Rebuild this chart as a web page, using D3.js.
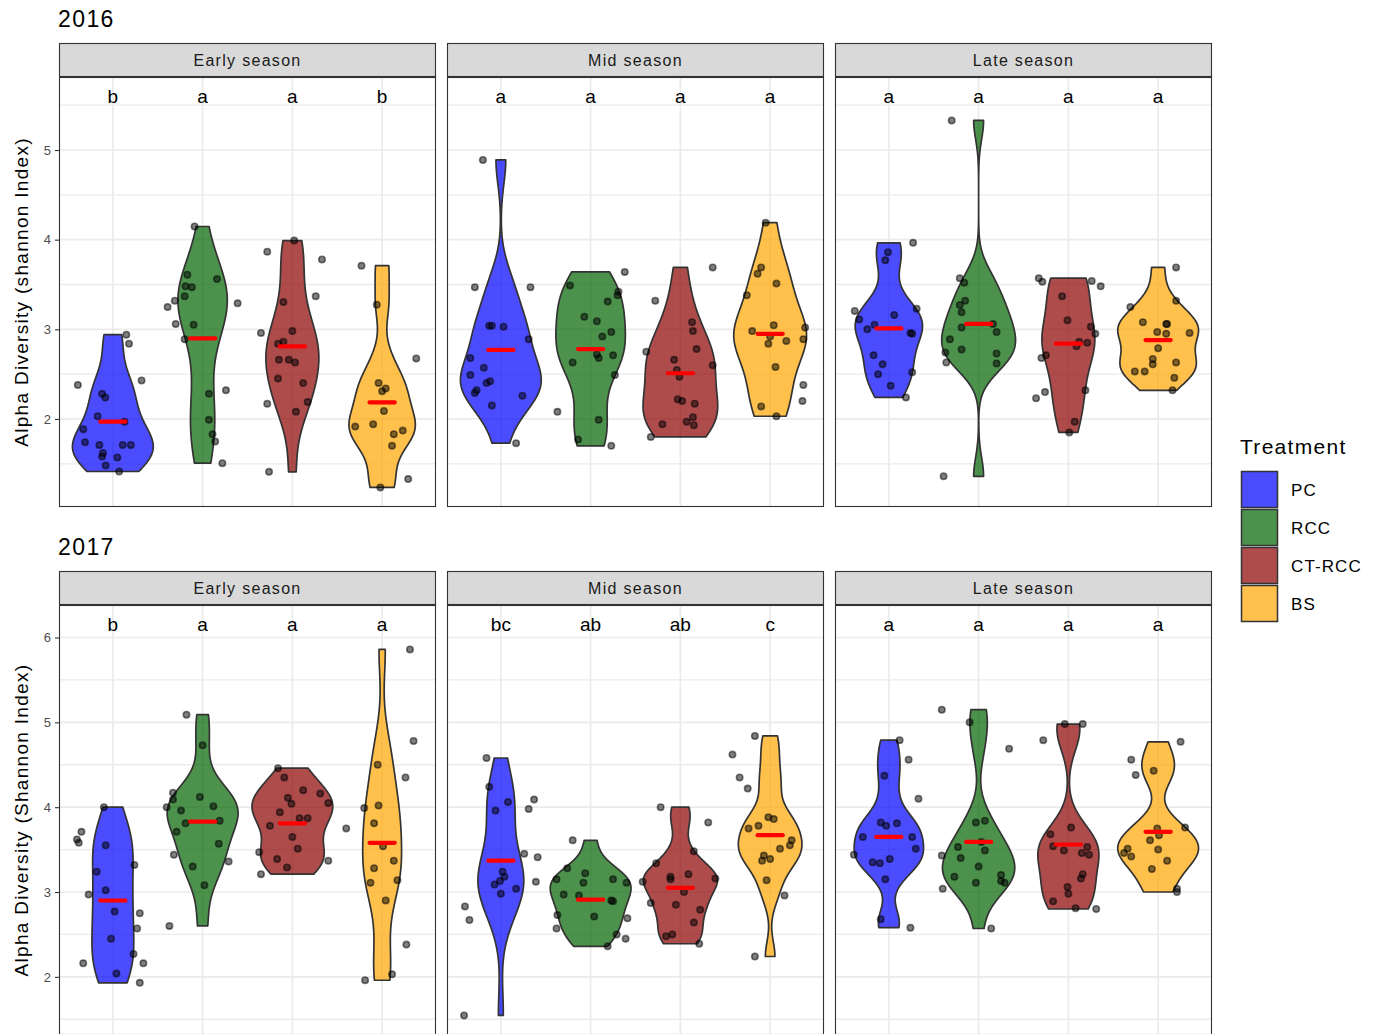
<!DOCTYPE html>
<html>
<head>
<meta charset="utf-8">
<script src="https://cdn.jsdelivr.net/npm/d3@7"></script>
<style>
  body { margin: 0; background: #fff; }
  svg { display: block; font-family: "Liberation Sans", Arial, sans-serif; }
</style>
</head>
<body>
<svg id="chart" width="1376" height="1034"></svg>
<script>
const years = ["2016", "2017"];
const seasons = ["Early season", "Mid season", "Late season"];
const treatments = ["PC", "RCC", "CT-RCC", "BS"];
const yTitles = ["Alpha Diversity (shannon Index)", "Alpha Diversity (Shannon Index)"];
const yTicks = [[2, 3, 4, 5], [2, 3, 4, 5, 6]];

// each point: [shannon value, horizontal jitter in category units]
const early2016 = [
  [[2.94,.15],[2.84,.18],[2.43,.32],[2.38,-.39],[2.28,-.12],[2.24,-.085],[2.03,-.17],[1.97,.13],[1.885,-.33],[1.74,-.31],[1.71,-.15],[1.71,.11],[1.71,.2],[1.62,-.11],[1.58,-.12],[1.57,.05],[1.48,-.08],[1.414,.07]],
  [[4.147,-.09],[3.61,-.17],[3.56,.16],[3.48,-.19],[3.47,-.12],[3.37,-.2],[3.32,-.31],[3.29,.39],[3.25,-.39],[3.06,-.3],[3.05,-.1],[2.89,-.2],[2.32,.26],[2.28,.07],[1.99,.07],[1.83,.11],[1.75,.14],[1.507,.22]],
  [[3.99,.02],[3.865,-.28],[3.78,.33],[3.37,.26],[3.305,-.1],[2.98,0],[2.96,-.35],[2.86,-.1],[2.84,-.16],[2.66,-.15],[2.66,-.04],[2.63,.03],[2.45,-.16],[2.40,.12],[2.19,.17],[2.17,-.28],[2.08,.04],[1.41,-.26]],
  [[3.71,-.23],[3.275,-.06],[2.675,.38],[2.40,-.04],[2.34,.04],[2.31,0],[2.09,.02],[1.94,-.1],[1.915,-.3],[1.87,.23],[1.83,.13],[1.70,.11],[1.33,.29],[1.236,-.02]]
];
const mid2016 = [
  [[4.89,-.2],[3.47,-.29],[3.47,.33],[3.04,-.13],[3.04,-.1],[3.03,.03],[2.89,.31],[2.68,-.34],[2.57,-.19],[2.49,-.34],[2.42,-.12],[2.40,-.16],[2.32,-.27],[2.29,-.29],[2.26,.24],[2.15,-.1],[1.73,.17]],
  [[3.64,.38],[3.49,-.23],[3.42,.31],[3.38,.3],[3.31,.19],[3.14,-.07],[3.09,.07],[2.97,.23],[2.92,.13],[2.72,.07],[2.71,.25],[2.68,.09],[2.63,-.2],[2.49,.27],[2.08,-.37],[1.99,.09],[1.77,-.14],[1.70,.23]],
  [[3.69,.36],[3.32,-.28],[3.08,.13],[2.98,.14],[2.78,.18],[2.75,-.38],[2.66,-.07],[2.60,.36],[2.545,-.04],[2.47,-.01],[2.22,-.03],[2.20,.02],[2.17,.16],[2.02,.14],[1.97,.07],[1.94,-.2],[1.93,.15],[1.80,-.33]],
  [[4.19,-.05],[3.69,-.1],[3.62,-.14],[3.51,.07],[3.38,-.26],[3.045,.04],[3.02,.39],[2.98,-.2],[2.92,0],[2.89,.37],[2.87,.18],[2.84,-.02],[2.58,.06],[2.38,.37],[2.20,.36],[2.14,-.1],[2.03,.07]]
];
const late2016 = [
  [[3.965,.27],[3.86,-.01],[3.77,-.04],[3.23,.31],[3.205,-.38],[3.16,.06],[3.11,-.33],[3.05,-.16],[3.00,-.24],[2.96,.24],[2.95,.26],[2.71,-.17],[2.61,-.07],[2.52,.26],[2.50,-.12],[2.37,.02],[2.24,.19]],
  [[5.33,-.3],[3.57,-.21],[3.52,-.16],[3.32,-.15],[3.27,-.21],[3.19,-.19],[3.06,.16],[3.02,-.19],[2.97,.2],[2.89,-.32],[2.775,-.19],[2.74,-.37],[2.73,.2],[2.63,-.36],[2.62,.2],[1.36,-.39]],
  [[3.57,-.33],[3.54,.26],[3.53,-.29],[3.48,.36],[3.37,-.07],[3.10,-.01],[3.03,.25],[2.95,.3],[2.86,.12],[2.85,.21],[2.81,.09],[2.71,-.25],[2.68,-.3],[2.32,.19],[2.30,-.26],[2.23,-.36],[1.97,.07],[1.85,.01]],
  [[3.69,.2],[3.32,.2],[3.25,-.31],[3.08,-.17],[3.06,.09],[3.06,.1],[2.97,-.01],[2.96,.35],[2.95,.09],[2.79,0],[2.67,-.06],[2.63,.2],[2.61,-.06],[2.53,-.26],[2.53,-.15],[2.46,.18],[2.32,.16]]
];
const early2017 = [
  [[4.00,-.1],[3.71,-.35],[3.62,-.4],[3.58,-.38],[3.55,-.08],[3.32,.24],[3.24,-.18],[3.02,-.08],[2.97,-.27],[2.77,.02],[2.75,.3],[2.57,.27],[2.45,-.02],[2.27,.23],[2.16,.34],[2.16,-.33],[2.04,.04],[1.93,.3]],
  [[5.09,-.18],[4.73,0],[4.17,-.33],[4.12,-.03],[4.09,-.33],[4.01,.12],[4.00,-.4],[3.96,-.24],[3.84,.19],[3.81,-.19],[3.71,-.29],[3.57,.18],[3.44,-.32],[3.36,.29],[3.30,-.11],[3.08,.02],[2.60,-.37]],
  [[4.46,-.16],[4.35,-.09],[4.20,.12],[4.16,.31],[4.11,-.05],[4.04,-.01],[4.05,.4],[3.94,-.14],[3.87,.08],[3.87,.17],[3.78,-.25],[3.65,0],[3.51,.06],[3.47,-.37],[3.39,-.17],[3.37,.4],[3.29,-.06],[3.21,-.35]],
  [[5.86,.31],[4.78,.35],[4.50,-.05],[4.35,.26],[4.02,-.04],[3.99,-.2],[3.81,-.09],[3.75,-.4],[3.54,.01],[3.37,.13],[3.28,-.09],[3.14,.17],[3.11,-.13],[2.90,.04],[2.38,.27],[2.03,.11],[1.96,-.19]]
];
const mid2017 = [
  [[4.58,-.16],[4.24,-.13],[4.09,.37],[4.06,.08],[3.98,.31],[3.96,-.06],[3.45,.26],[3.41,.41],[3.24,.02],[3.18,.04],[3.13,-.01],[3.12,.39],[3.09,-.07],[3.04,.17],[2.98,0],[2.83,-.4],[2.67,-.35],[1.545,-.41]],
  [[3.61,-.2],[3.28,-.26],[3.22,-.06],[3.15,-.38],[3.15,.25],[3.11,-.08],[3.11,.4],[2.97,-.3],[2.96,-.13],[2.90,.23],[2.89,.25],[2.73,-.37],[2.71,.04],[2.69,.41],[2.57,-.38],[2.50,.29],[2.45,.39],[2.36,.19]],
  [[4.00,-.22],[3.82,.31],[3.48,.15],[3.34,-.27],[3.21,.09],[3.18,-.11],[3.16,.39],[3.15,-.11],[3.12,-.42],[3.00,.04],[2.87,-.33],[2.85,-.05],[2.79,.22],[2.64,.15],[2.50,-.09],[2.48,-.16],[2.39,.21]],
  [[4.84,-.17],[4.62,-.42],[4.35,-.34],[4.22,-.25],[3.88,-.02],[3.86,.04],[3.78,-.13],[3.75,-.24],[3.61,.24],[3.55,.22],[3.51,.11],[3.43,-.07],[3.39,0],[3.37,-.09],[3.14,-.04],[2.96,.16],[2.24,-.17]]
];
const late2017 = [
  [[4.79,.12],[4.56,.22],[4.37,-.05],[4.10,.33],[3.82,-.09],[3.81,.09],[3.78,-.03],[3.65,-.29],[3.65,.26],[3.51,.3],[3.44,-.39],[3.39,.01],[3.35,-.18],[3.34,-.1],[3.15,-.04],[2.68,-.09],[2.58,.24]],
  [[5.15,-.41],[5.00,-.1],[4.69,.34],[3.84,.07],[3.82,-.03],[3.59,.03],[3.53,-.23],[3.49,.07],[3.43,-.41],[3.40,-.2],[3.30,0],[3.20,.25],[3.18,-.27],[3.13,.25],[3.11,-.03],[3.11,.29],[3.04,-.4],[2.57,.14]],
  [[4.98,-.04],[4.98,.16],[4.79,-.28],[3.76,.03],[3.68,-.2],[3.54,-.17],[3.53,.21],[3.49,-.05],[3.46,.15],[3.44,.23],[3.21,.16],[3.16,.14],[3.06,-.01],[2.98,0],[2.89,-.17],[2.81,.08],[2.80,.31]],
  [[4.77,.25],[4.56,-.3],[4.43,-.05],[4.38,-.25],[3.76,.3],[3.75,-.01],[3.67,.01],[3.61,-.09],[3.51,-.34],[3.50,0],[3.46,-.38],[3.42,-.3],[3.37,.1],[3.27,-.07],[3.04,.21],[3.00,.21]]
];

const medians2016 = [[1.97, 2.90, 2.81, 2.185], [2.77, 2.78, 2.51, 2.95], [3.01, 3.06, 2.84, 2.88]];
const medians2017 = [[2.90, 3.83, 3.81, 3.58], [3.37, 2.91, 3.05, 3.67], [3.65, 3.59, 3.56, 3.71]];
const letters2016 = [["b", "a", "a", "b"], ["a", "a", "a", "a"], ["a", "a", "a", "a"]];
const letters2017 = [["b", "a", "a", "a"], ["bc", "ab", "ab", "c"], ["a", "a", "a", "a"]];

const fills = ["blue", "darkgreen", "darkred", "orange"];

const pointsByYear = [[early2016, mid2016, late2016], [early2017, mid2017, late2017]];
const mediansByYear = [medians2016, medians2017];
const lettersByYear = [letters2016, letters2017];

const svg = d3.select("#chart");
svg.append("rect").attr("width", 1376).attr("height", 1034).attr("fill", "#fff");

const panelLeft = 59, panelW = 377, panelGap = 11;
const rows = [
  { title: 27, strip: 43, top: 77, bottom: 507 },
  { title: 555, strip: 571, top: 605, bottom: 1035 }
];

// gaussian kde like R density(), bandwidth nrd0, trimmed to data range
const kde = (vals) => {
  const s = vals.slice().sort(d3.ascending);
  const n = s.length;
  const sd = d3.deviation(s);
  const iqr = d3.quantileSorted(s, 0.75) - d3.quantileSorted(s, 0.25);
  const lo = Math.min(sd, iqr / 1.34) || sd;
  const bw = 0.9 * lo * Math.pow(n, -0.2);
  const [mn, mx] = [s[0], s[n - 1]];
  const out = [];
  for (let i = 0; i < 512; i++) {
    const y = mn + (mx - mn) * i / 511;
    let d = 0;
    for (const v of s) {
      const z = (y - v) / bw;
      d += Math.exp(-0.5 * z * z);
    }
    out.push({ v: y, d: d / (n * bw * Math.sqrt(2 * Math.PI)) });
  }
  return out;
};

years.forEach((year, r) => {
  const row = rows[r];
  const panels = pointsByYear[r];
  const vmax = d3.max(panels.flat().flat(), d => d[0]);
  const vmin = d3.min(panels.flat().flat(), d => d[0]);
  const labelY = vmax * 1.05;
  const pad = (labelY - vmin) * 0.05;
  const y = d3.scaleLinear().domain([vmin - pad, labelY + pad]).range([row.bottom, row.top]);

  svg.append("text")
    .attr("x", 58).attr("y", row.title)
    .attr("font-size", 23).attr("letter-spacing", 1.4).attr("fill", "#000")
    .text(year);

  // y axis title
  svg.append("text")
    .attr("transform", `translate(28,${(row.top + row.bottom) / 2}) rotate(-90)`)
    .attr("text-anchor", "middle")
    .attr("font-size", 19).attr("letter-spacing", 1.3).attr("fill", "#000")
    .text(yTitles[r]);

  // y axis ticks
  const yAxis = svg.append("g")
    .attr("transform", `translate(${panelLeft},0)`)
    .call(d3.axisLeft(y).tickValues(yTicks[r]).tickSize(4).tickPadding(4).tickFormat(d3.format("d")));
  yAxis.select(".domain").remove();
  yAxis.selectAll(".tick line").attr("stroke", "#333").attr("stroke-width", 1.1);
  yAxis.selectAll(".tick text").attr("fill", "#4d4d4d").attr("font-size", 13)
    .attr("font-family", "Liberation Sans, Arial, sans-serif");

  const [d0, d1] = y.domain();
  const minorTicks = d3.range(Math.ceil(d0 - 0.5) + 0.5, d1, 1).filter(v => v > d0 && v < d1);

  panels.forEach((groups, p) => {
    const x0 = panelLeft + p * (panelW + panelGap);
    const x = d3.scaleLinear().domain([0.4, 4.6]).range([x0, x0 + panelW]);

    // strip
    svg.append("rect")
      .attr("x", x0 + 0.5).attr("y", row.strip + 0.5)
      .attr("width", panelW - 1).attr("height", row.top - row.strip - 1)
      .attr("fill", "#d9d9d9").attr("stroke", "#333").attr("stroke-width", 1.1);
    svg.append("text")
      .attr("x", x0 + panelW / 2).attr("y", (row.strip + row.top) / 2)
      .attr("dy", "0.36em").attr("text-anchor", "middle")
      .attr("font-size", 16).attr("letter-spacing", 1.3).attr("fill", "#1a1a1a")
      .text(seasons[p]);

    const g = svg.append("g");
    g.append("rect").attr("x", x0).attr("y", row.top)
      .attr("width", panelW).attr("height", row.bottom - row.top).attr("fill", "#fff");

    // grid
    g.selectAll(".minor").data(minorTicks).join("line")
      .attr("x1", x0).attr("x2", x0 + panelW)
      .attr("y1", d => y(d)).attr("y2", d => y(d))
      .attr("stroke", "#ebebeb").attr("stroke-width", 1.3);
    g.selectAll(".major").data(y.ticks().filter(t => Number.isInteger(t))).join("line")
      .attr("x1", x0).attr("x2", x0 + panelW)
      .attr("y1", d => y(d)).attr("y2", d => y(d))
      .attr("stroke", "#ebebeb").attr("stroke-width", 1.7);
    g.selectAll(".vgrid").data(treatments).join("line")
      .attr("x1", (d, i) => x(i + 1)).attr("x2", (d, i) => x(i + 1))
      .attr("y1", row.top).attr("y2", row.bottom)
      .attr("stroke", "#ebebeb").attr("stroke-width", 1.7);

    // violins (scale = "area": width relative to panel max density)
    const dens = groups.map(pts => kde(pts.map(d => d[0])));
    const maxD = d3.max(dens.flat(), d => d.d);
    dens.forEach((curve, i) => {
      const c = i + 1;
      const area = d3.area()
        .y(d => y(d.v))
        .x0(d => x(c - 0.45 * d.d / maxD))
        .x1(d => x(c + 0.45 * d.d / maxD));
      g.append("path")
        .attr("d", area(curve))
        .attr("fill", fills[i]).attr("fill-opacity", 0.7)
        .attr("stroke", "#333").attr("stroke-width", 1.7)
        .attr("stroke-linejoin", "round");
    });

    // jittered points
    groups.forEach((pts, i) => {
      g.selectAll(null).data(pts).join("circle")
        .attr("cx", d => x(i + 1 + d[1]))
        .attr("cy", d => y(d[0]))
        .attr("r", 3.2)
        .attr("fill", "#000").attr("fill-opacity", 0.5)
        .attr("stroke", "#000").attr("stroke-opacity", 0.5).attr("stroke-width", 1.6);
    });

    // median bars
    g.selectAll(null).data(mediansByYear[r][p]).join("line")
      .attr("x1", (d, i) => x(i + 1 - 0.14)).attr("x2", (d, i) => x(i + 1 + 0.14))
      .attr("y1", d => y(d)).attr("y2", d => y(d))
      .attr("stroke", "red").attr("stroke-width", 4.2).attr("stroke-linecap", "round");

    // significance letters
    g.selectAll(null).data(lettersByYear[r][p]).join("text")
      .attr("x", (d, i) => x(i + 1)).attr("y", y(labelY))
      .attr("dy", "0.36em").attr("text-anchor", "middle")
      .attr("font-size", 19).attr("fill", "#000")
      .text(d => d);

    g.append("rect").attr("x", x0 + 0.5).attr("y", row.top + 0.5)
      .attr("width", panelW - 1).attr("height", row.bottom - row.top - 1)
      .attr("fill", "none").attr("stroke", "#333").attr("stroke-width", 1.1);
  });
});

// legend
const legend = svg.append("g").attr("transform", "translate(1240,0)");
legend.append("text").attr("x", 0).attr("y", 454)
  .attr("font-size", 21).attr("letter-spacing", 1.3).attr("fill", "#000").text("Treatment");
treatments.forEach((t, i) => {
  const top = 471 + i * 38;
  legend.append("rect").attr("x", 1.5).attr("y", top + 0.5).attr("width", 36).attr("height", 36)
    .attr("fill", fills[i]).attr("fill-opacity", 0.7)
    .attr("stroke", "#333").attr("stroke-width", 1.5);
  legend.append("text").attr("x", 51).attr("y", top + 19).attr("dy", "0.36em")
    .attr("font-size", 17).attr("letter-spacing", 1.1).attr("fill", "#000").text(t);
});
</script>
</body>
</html>
